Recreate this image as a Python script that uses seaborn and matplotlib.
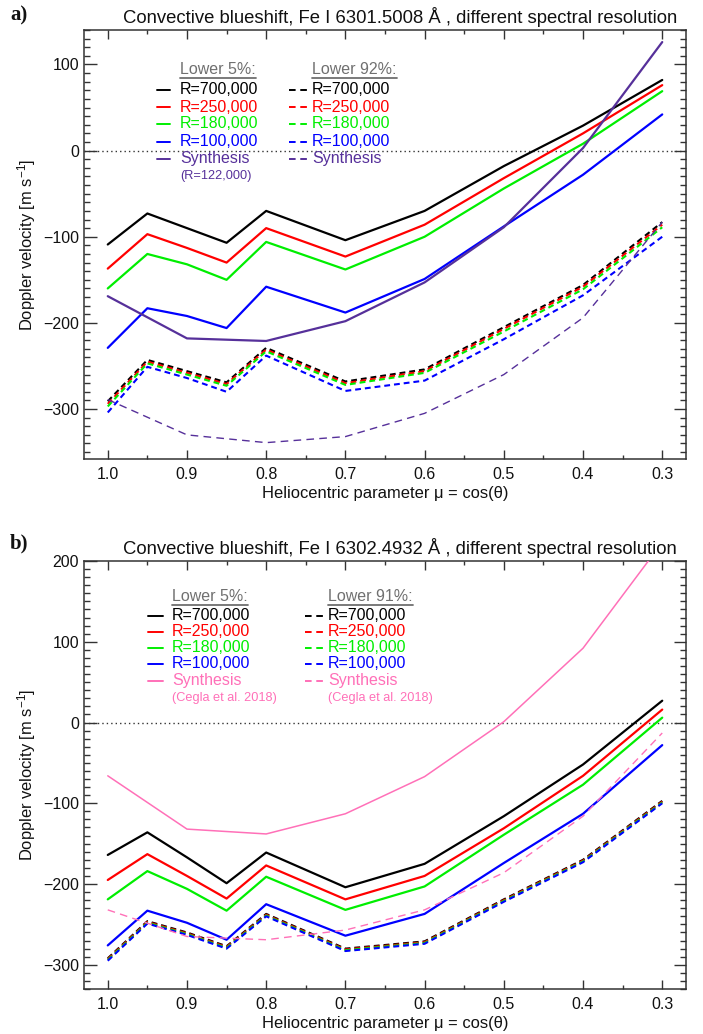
import numpy as np
import pandas as pd
import matplotlib
matplotlib.use("Agg")
import matplotlib.pyplot as plt
import seaborn as sns
from matplotlib.ticker import MultipleLocator, FixedLocator
from matplotlib.lines import Line2D

# ---------------- data ----------------
mu = [1.0, 0.95, 0.9, 0.85, 0.8, 0.7, 0.6, 0.5, 0.4, 0.3]
mu_syn = [1.0, 0.9, 0.8, 0.7, 0.6, 0.5, 0.4, 0.3]
xticks = [1.0, 0.9, 0.8, 0.7, 0.6, 0.5, 0.4, 0.3]
xtick_labels = ["1.0", "0.9", "0.8", "0.7", "0.6", "0.5", "0.4", "0.3"]
res_labels = ["R=700,000", "R=250,000", "R=180,000", "R=100,000"]
res_colors = ["#000000", "#ff0000", "#00ee00", "#0000ff"]

# panel a: Fe I 6301.5008
a_low5 = [
    [-109, -73, -90, -107, -70, -104, -70, -18, 29, 82],
    [-137, -97, -113, -130, -90, -123, -86, -32, 20, 76],
    [-160, -120, -132, -150, -106, -138, -100, -44, 8, 69],
    [-229, -183, -192, -206, -158, -188, -149, -88, -28, 42],
]
a_low92 = [
    [-291, -243, -256, -269, -229, -268, -254, -205, -156, -83],
    [-294, -245, -258, -271, -231, -270, -256, -207, -158, -86],
    [-297, -247, -260, -273, -233, -272, -258, -210, -161, -89],
    [-304, -251, -264, -280, -238, -279, -267, -219, -168, -100],
]
a_syn5 = [-169, -218, -221, -198, -153, -89, 3, 126]
a_syn92 = [-289, -330, -339, -332, -305, -260, -194, -83]

# panel b: Fe I 6302.4932
b_low5 = [
    [-164, -136, -167, -199, -161, -204, -175, -116, -52, 27],
    [-195, -163, -190, -218, -177, -219, -190, -131, -66, 16],
    [-219, -184, -206, -233, -191, -232, -203, -139, -77, 6],
    [-276, -233, -248, -269, -225, -264, -237, -174, -113, -28],
]
b_low91 = [
    [-292, -246, -260, -277, -237, -280, -271, -219, -170, -97],
    [-293, -247, -261, -278, -238, -281, -272, -220, -171, -98],
    [-294, -248, -262, -279, -239, -282, -273, -221, -172, -99],
    [-295, -249, -263, -280, -240, -283, -274, -222, -173, -100],
]
b_syn5 = [-66, -132, -138, -113, -67, 1, 92, 223]
b_syn91 = [-232, -265, -269, -257, -232, -186, -116, -13]

titles = [
    "Convective blueshift, Fe I 6301.5008 Å , different spectral resolution",
    "Convective blueshift, Fe I 6302.4932 Å , different spectral resolution",
]
panel_labels = ["a)", "b)"]
headers = [("Lower 5%:", "Lower 92%:"), ("Lower 5%:", "Lower 91%:")]
syn_notes = [("(R=122,000)", ""), ("(Cegla et al. 2018)", "(Cegla et al. 2018)")]
syn_colors = ["#56309a", "#ff70b8"]
ylims = [(-358, 140), (-330, 200)]

# ---------------- style ----------------
sns.set_style("ticks")
plt.rcParams["font.family"] = ["Liberation Sans", "DejaVu Sans"]
plt.rcParams["mathtext.fontset"] = "custom"
plt.rcParams["mathtext.rm"] = "Liberation Sans"
plt.rcParams["mathtext.it"] = "Liberation Sans:italic"
plt.rcParams["axes.unicode_minus"] = True

W, H = 703, 1034
fig = plt.figure(figsize=(W / 100, H / 100), dpi=100)

def fx(px):
    return px / W

def fy(py):
    return 1 - py / H

# axes rectangles in pixels: left, top, right, bottom
rects = [(84, 30, 686, 459), (84, 561, 686, 989)]
axes = []
for (l, t, r, b) in rects:
    axes.append(fig.add_axes([fx(l), fy(b), (r - l) / W, (b - t) / H]))

spine_col = "#333333"
txt_col = "#111111"

def style_axes(ax, ylim):
    ax.set_xlim(1.03, 0.27)
    ax.set_ylim(*ylim)
    ax.xaxis.set_major_locator(FixedLocator(xticks))
    ax.set_xticklabels(xtick_labels)
    ax.xaxis.set_minor_locator(MultipleLocator(0.05))
    ax.yaxis.set_major_locator(MultipleLocator(100))
    ax.yaxis.set_minor_locator(MultipleLocator(10))
    ax.tick_params(which="both", direction="in", top=True, right=True,
                   color=spine_col, width=1.0, labelsize=11.5, labelcolor=txt_col)
    ax.tick_params(axis="x", which="major", length=6.2, pad=6)
    ax.tick_params(axis="x", which="minor", length=3.2)
    ax.tick_params(axis="y", which="major", length=9, pad=3.5)
    ax.tick_params(axis="y", which="minor", length=4.3)
    for s in ax.spines.values():
        s.set_color(spine_col)
        s.set_linewidth(1.1)
        s.set_visible(True)
    ax.set_xlabel("Heliocentric parameter μ = cos(θ)", fontsize=11.9, color=txt_col)
    ax.set_ylabel("Doppler velocity [m s$^{-1}$]", fontsize=11.9, color=txt_col)
    ax.xaxis.set_label_coords(0.5, -0.064)
    ax.yaxis.set_label_coords(-0.077, 0.5)
    ax.axhline(0, color="#333333", lw=1.0, linestyle=(0, (1, 2.2)), zorder=1)

panel_data = [
    (a_low5, a_low92, a_syn5, a_syn92),
    (b_low5, b_low91, b_syn5, b_syn91),
]
syn_lw = [(1.6, 1.0), (1.1, 1.0)]

for i, ax in enumerate(axes):
    low, high, syn_lo, syn_hi = panel_data[i]
    style_axes(ax, ylims[i])
    # solid lower-5% curves
    for vals, c in zip(low, res_colors):
        sns.lineplot(x=mu, y=vals, ax=ax, color=c, lw=1.6, sort=False,
                     estimator=None, zorder=3)
    # dashed upper curves
    for vals, c in zip(high, res_colors):
        sns.lineplot(x=mu, y=vals, ax=ax, color=c, lw=1.5, sort=False,
                     estimator=None, linestyle=(0, (2.8, 1.9)), zorder=3)
    # synthesis
    sns.lineplot(x=mu_syn, y=syn_lo, ax=ax, color=syn_colors[i], lw=syn_lw[i][0],
                 sort=False, estimator=None, zorder=4)
    sns.lineplot(x=mu_syn, y=syn_hi, ax=ax, color=syn_colors[i], lw=syn_lw[i][1],
                 sort=False, estimator=None, linestyle=(0, (5.5, 3.8)), zorder=4)
    if ax.get_legend() is not None:
        ax.get_legend().remove()

# ---------------- titles & panel labels ----------------
title_y = [17, 548]
label_y = [15, 543]
for i in range(2):
    fig.text(fx(400), fy(title_y[i]), titles[i], ha="center", va="center",
             fontsize=13.3, color=txt_col)
    fig.text(fx(10), fy(label_y[i]), panel_labels[i], ha="left", va="center",
             fontsize=15, fontweight="bold", family="Liberation Serif", color=txt_col)

# ---------------- legends (drawn as key text) ----------------
keys = [
    dict(hy=70, rows=[90, 107, 124, 141.5, 159], note=176,
         c1=(157, 170, 180), c2=(289, 308, 312)),
    dict(hy=596.5, rows=[615.5, 632, 648, 664, 681], note=697.5,
         c1=(148, 163, 172), c2=(305, 323, 328)),
]
header_col = "#707070"
leg_fs = 11.5
text_objs = []
for i in range(2):
    k = keys[i]
    for col, (h0, h1, tx) in enumerate([k["c1"], k["c2"]]):
        t = fig.text(fx(tx), fy(k["hy"]), headers[i][col], ha="left", va="center",
                     fontsize=leg_fs, color=header_col)
        text_objs.append(t)
        labels = res_labels + ["Synthesis"]
        cols = res_colors + [syn_colors[i]]
        for ry, lab, c in zip(k["rows"], labels, cols):
            fig.text(fx(tx), fy(ry), lab, ha="left", va="center",
                     fontsize=leg_fs, color=c)
            ls = "-" if col == 0 else (0, (3.4, 2.4))
            fig.add_artist(Line2D([fx(h0), fx(h1)], [fy(ry), fy(ry)],
                                  transform=fig.transFigure, color=c, lw=1.4,
                                  linestyle=ls))
        note = syn_notes[i][col]
        if note:
            fig.text(fx(tx), fy(k["note"]), note, ha="left", va="center",
                     fontsize=9.2, color=syn_colors[i])

# underline headers
fig.canvas.draw()
renderer = fig.canvas.get_renderer()
for t in text_objs:
    bb = t.get_window_extent(renderer=renderer)
    x0, x1 = bb.x0 / W, bb.x1 / W
    yline = (bb.y0 - 0.8) / H
    fig.add_artist(Line2D([x0, x1], [yline, yline], transform=fig.transFigure,
                          color=header_col, lw=1.3))

fig.savefig("out.png", dpi=100)
